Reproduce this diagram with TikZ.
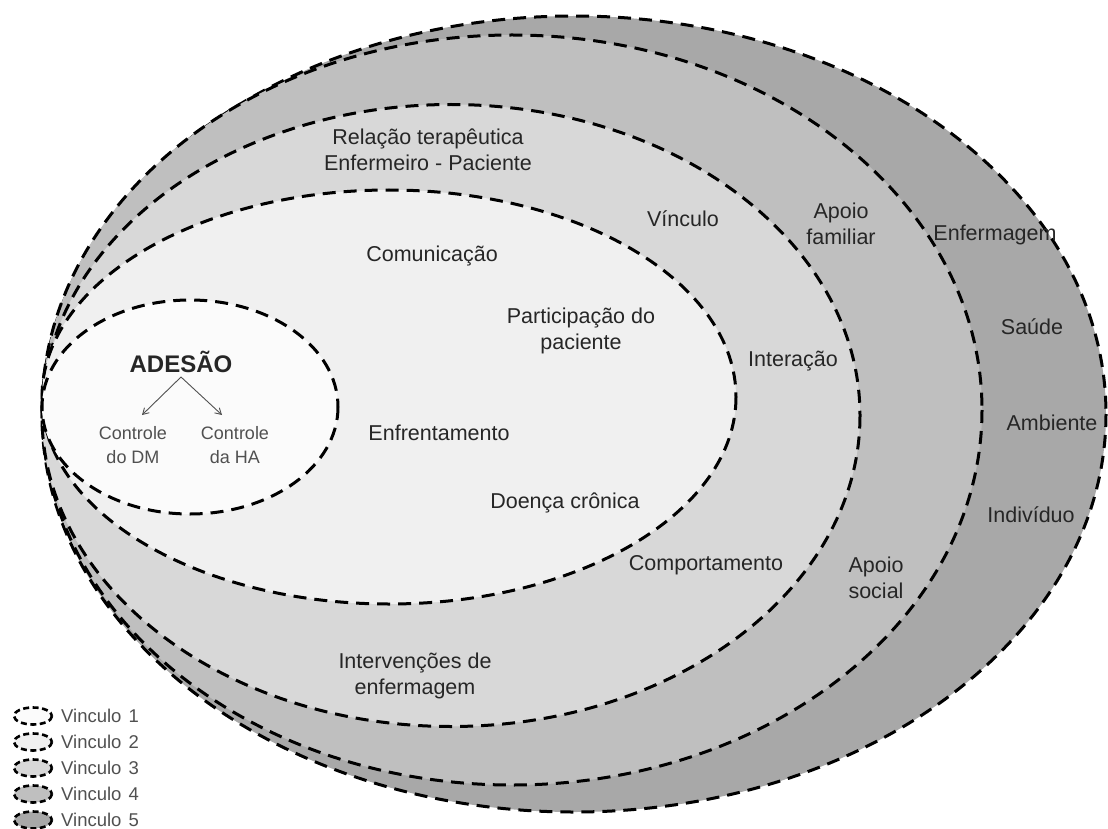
\documentclass[tikz,border=0pt]{standalone}
\usepackage{fontspec}
\setmainfont{Liberation Sans}
\usetikzlibrary{arrows.meta}
\definecolor{ringE}{HTML}{A8A8A8}
\definecolor{ringD}{HTML}{BFBFBF}
\definecolor{ringC}{HTML}{D8D8D8}
\definecolor{ringB}{HTML}{F0F0F0}
\definecolor{ringA}{HTML}{FBFBFB}
\definecolor{txt}{HTML}{262626}
\definecolor{txtlight}{HTML}{505050}
\begin{document}
\begin{tikzpicture}[x=1pt,y=-1pt,
  ring/.style={line width=3pt, dash pattern=on 13pt off 8pt, draw=black},
  legring/.style={line width=2.6pt, dash pattern=on 6pt off 3.5pt, draw=black},
  lab/.style={text=txt, font=\fontsize{21.5}{26.5}\selectfont, align=center, inner sep=0pt},
  small/.style={text=txtlight, font=\fontsize{18}{24}\selectfont, align=center, inner sep=0pt},
  leglab/.style={text=txtlight, font=\fontsize{18.5}{20}\selectfont, anchor=west, inner sep=0pt},
  arr/.style={draw=txtlight, line width=0.9pt, -{Straight Barb[length=6pt,width=7pt]}}]
\useasboundingbox (0,0) rectangle (1108,829);
% rings
\draw[ring, fill=ringE] (574,414) ellipse [x radius=532, y radius=398];
\draw[ring, fill=ringD] (512,410) ellipse [x radius=470, y radius=375];
\draw[ring, fill=ringC] (451,415.5) ellipse [x radius=409, y radius=311];
\draw[ring, fill=ringB] (389,397) ellipse [x radius=347, y radius=207];
\draw[ring, fill=ringA] (190,407) ellipse [x radius=148, y radius=107];
% centre
\node[text=txt, font=\bfseries\fontsize{24}{28}\selectfont, inner sep=0pt] (ades) at (181,362) {ADESÃO};
\node[small] (cdm) at (133,445) {Controle\\do DM};
\node[small] (cha) at (235,445) {Controle\\da HA};
\coordinate (t1) at (142,415);
\coordinate (t2) at (222,415);
\draw[arr] ([yshift=-4pt]ades.south) -- (t1);
\draw[arr] ([yshift=-4pt]ades.south) -- (t2);
% ring 2
\node[lab] (comu) at (432,256) {Comunicação};
\node[lab] (part) at (581,331) {Participação do\\paciente};
\node[lab] (enfr) at (439,433) {Enfrentamento};
\node[lab] (doen) at (565,503) {Doença crônica};
% ring 3
\node[lab] (rel) at (428,150) {Relação terapêutica\\Enfermeiro - Paciente};
\node[lab] (vinc) at (683,219) {Vínculo};
\node[lab] (inte) at (793,361) {Interação};
\node[lab] (comp) at (706,565) {Comportamento};
\node[lab] (interv) at (415,676) {Intervenções de\\enfermagem};
% ring 4
\node[lab] (apf) at (841,224) {Apoio\\familiar};
\node[lab] (aps) at (876,578) {Apoio\\social};
% ring 5
\node[lab] (enfe) at (995,235) {Enfermagem};
\node[lab] (saud) at (1032,327) {Saúde};
\node[lab] (amb) at (1052,423) {Ambiente};
\node[lab] (indv) at (1031,515) {Indivíduo};
% legend
\foreach \i/\c/\yy in {1/ringA/716,2/ringB/742,3/ringC/768,4/ringD/794,5/ringE/820}{
  \draw[legring, fill=\c] (33,\yy) ellipse [x radius=19, y radius=8.5];
  \node[leglab] (leg\i) at (61,\yy) {Vinculo\hspace{7pt}\i};
}
\end{tikzpicture}
\end{document}
